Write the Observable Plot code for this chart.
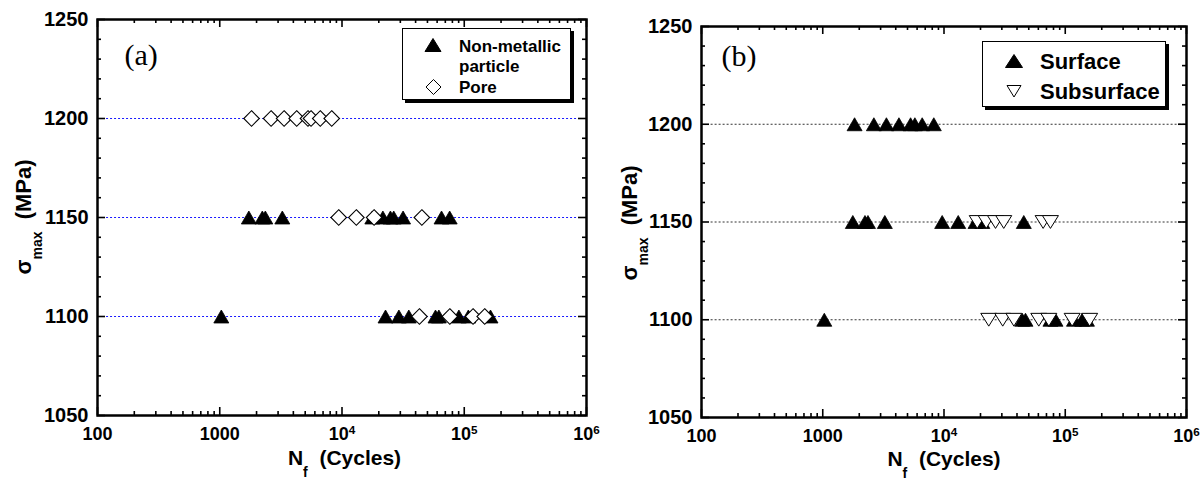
<!DOCTYPE html>
<html><head><meta charset="utf-8">
<script src="https://cdn.jsdelivr.net/npm/d3@7"></script>
<script src="https://cdn.jsdelivr.net/npm/@observablehq/plot@0.6"></script>
<style>
html,body{margin:0;padding:0;background:#fff;}
#root{position:relative;width:1203px;height:481px;overflow:hidden;font-family:"Liberation Sans",Arial,sans-serif;}
.panel{position:absolute;top:0;}
.t{position:absolute;font-weight:bold;white-space:nowrap;color:#000;}
.legend{position:absolute;box-sizing:border-box;border:1.5px solid #000;box-shadow:3px 3px 0 #000;background:#fff;}
.ax{position:absolute;font-weight:bold;white-space:nowrap;color:#000;line-height:1.15;}
.ax .sub{position:relative;font-size:14px;}
</style></head>
<body><div id="root"></div>
<script>
// ---------- axes / tick labels ----------
const yTicks = [1050, 1100, 1150, 1200, 1250];
const yTickLabels = ["1050", "1100", "1150", "1200", "1250"];
const yMinorTicks = [1060,1070,1080,1090,1110,1120,1130,1140,1160,1170,1180,1190,1210,1220,1230,1240];
const xTicks = [100, 1000, 10000, 100000, 1000000];
const xTickLabels = ["100", "1000", "10^4", "10^5", "10^6"];
const xMinorTicks = [200,300,400,500,600,700,800,900,2000,3000,4000,5000,6000,7000,8000,9000,
  20000,30000,40000,50000,60000,70000,80000,90000,200000,300000,400000,500000,600000,700000,800000,900000];
const stressLevels = [1100, 1150, 1200];

// ---------- panel (a): cycles to failure by stress level ----------
const aNonMetallic1150 = [1730, 2230, 2360, 3250, 17700, 21600, 24900, 26500, 31600, 65200, 76000];
const aNonMetallic1100 = [1030, 22700, 29200, 35200, 58200, 62000, 90400, 108000, 164000];
const aPore1200 = [1820, 2630, 3360, 4260, 5270, 5580, 6640, 8240];
const aPore1150 = [9400, 13100, 18300, 45000];
const aPore1100 = [43000, 76200, 118000, 147000];

// ---------- panel (b) ----------
const bSurface1200 = [1830, 2640, 3350, 4250, 5300, 5750, 6610, 8240];
const bSurface1150 = [1770, 2230, 2360, 3250, 9660, 13100, 18200, 20700, 45500];
const bSurface1100 = [1030, 44200, 47000, 75500, 83100, 118000, 138000, 151000];
const bSubsurface1150 = [18800, 22300, 26600, 31100, 65700, 75500];
const bSubsurface1100 = [23400, 30500, 37700, 60500, 73200, 114000, 159000];

const rows = (arr, s) => arr.map(n => ({N: n, S: s}));
const aNonMetallic = [...rows(aNonMetallic1150, 1150), ...rows(aNonMetallic1100, 1100)];
const aPore = [...rows(aPore1200, 1200), ...rows(aPore1150, 1150), ...rows(aPore1100, 1100)];
const bSurface = [...rows(bSurface1200, 1200), ...rows(bSurface1150, 1150), ...rows(bSurface1100, 1100)];
const bSubsurface = [...rows(bSubsurface1150, 1150), ...rows(bSubsurface1100, 1100)];

// ---------- symbols ----------
const triUp = {draw(ctx, size){ const r = Math.sqrt(size/Math.PI), h = r*0.866; ctx.moveTo(0,-h); ctx.lineTo(r,h); ctx.lineTo(-r,h); ctx.closePath(); }};
const triDown = {draw(ctx, size){ const r = Math.sqrt(size/Math.PI), h = r*0.8; ctx.moveTo(0,h); ctx.lineTo(r,-h); ctx.lineTo(-r,-h); ctx.closePath(); }};
const diamond = {draw(ctx, size){ const r = Math.sqrt(size/Math.PI); ctx.moveTo(0,-r); ctx.lineTo(r,0); ctx.lineTo(0,r); ctx.lineTo(-r,0); ctx.closePath(); }};

function frameTicks(iw, ih) {
  const sw = 1.6;
  return [
    Plot.tickY(yMinorTicks, {y: d => d, insetRight: iw - 4, strokeWidth: sw}),
    Plot.tickY(yMinorTicks, {y: d => d, insetLeft: iw - 4, strokeWidth: sw}),
    Plot.tickY(yTicks, {y: d => d, insetRight: iw - 8, strokeWidth: sw}),
    Plot.tickY(yTicks, {y: d => d, insetLeft: iw - 8, strokeWidth: sw}),
    Plot.tickX(xMinorTicks, {x: d => d, insetTop: ih - 4, strokeWidth: sw}),
    Plot.tickX(xMinorTicks, {x: d => d, insetBottom: ih - 4, strokeWidth: sw}),
    Plot.tickX(xTicks, {x: d => d, insetTop: ih - 8, strokeWidth: sw}),
    Plot.tickX(xTicks, {x: d => d, insetBottom: ih - 8, strokeWidth: sw})
  ];
}

function makePanel(o) {
  const iw = o.W - o.ml - o.mr, ih = o.H - o.mt - o.mb;
  const p = Plot.plot({
    width: o.W, height: o.H,
    marginLeft: o.ml, marginRight: o.mr, marginTop: o.mt, marginBottom: o.mb,
    style: {fontFamily: "'Liberation Sans', Arial, sans-serif", fontSize: "18px", fontWeight: "bold", background: "transparent", overflow: "visible", color: "#000"},
    x: {type: "log", domain: [100, 1e6], ticks: xTicks, tickFormat: d => xTickLabels[xTicks.indexOf(d)], tickSize: 0, tickPadding: 12, label: null},
    y: {domain: [1050, 1250], ticks: yTicks, tickFormat: d => yTickLabels[yTicks.indexOf(d)], tickSize: 0, tickPadding: 9, label: null},
    marks: [
      Plot.ruleY(stressLevels, {y: d => d, x1: () => o.gridStart, x2: () => 1e6, stroke: o.gridColor, strokeWidth: 1, strokeDasharray: "2,2"}),
      ...o.marks,
      ...frameTicks(iw, ih),
      Plot.frame({stroke: "#000", strokeWidth: 2.5}),
      Plot.text([o.tag], {text: d => d, frameAnchor: "top-left", dx: o.tagDx, dy: o.tagDy, textAnchor: "start", lineAnchor: "middle", fontFamily: "'Liberation Serif', 'Times New Roman', serif", fontSize: 30, fontWeight: "normal"})
    ]
  });
  const ns = "http://www.w3.org/2000/svg";
  p.querySelectorAll("text").forEach(t => {
    const m = /^10\^(\d)$/.exec(t.textContent);
    if (m) {
      t.textContent = "10";
      const ts = document.createElementNS(ns, "tspan");
      ts.setAttribute("dy", "-0.55em");
      ts.setAttribute("font-size", "0.65em");
      ts.textContent = m[1];
      t.appendChild(ts);
    } else if (yTickLabels.includes(t.textContent)) {
      t.setAttribute("font-size", "20px");
    }
  });
  return p;
}

const root = document.getElementById("root");

const panelA = makePanel({
  W: 600, H: 481, ml: 97, mr: 14, mt: 19, mb: 66,
  gridStart: 110, gridColor: "#1a1aff", tag: "(a)", tagDx: 27, tagDy: 36,
  marks: [
    Plot.dot(aNonMetallic, {x: "N", y: "S", symbol: triUp, r: 7.5, fill: "#000", stroke: "#000", strokeWidth: 0.8}),
    Plot.dot(aPore, {x: "N", y: "S", symbol: diamond, r: 7.8, fill: "#fff", stroke: "#000", strokeWidth: 1.1})
  ]
});
const panelB = makePanel({
  W: 603, H: 481, ml: 101, mr: 17, mt: 26, mb: 64,
  gridStart: 120, gridColor: "#333", tag: "(b)", tagDx: 20, tagDy: 30,
  marks: [
    Plot.dot(bSurface, {x: "N", y: "S", symbol: triUp, r: 7.5, fill: "#000", stroke: "#000", strokeWidth: 0.8}),
    Plot.dot(bSubsurface, {x: "N", y: "S", symbol: triDown, r: 8, fill: "#fff", stroke: "#000", strokeWidth: 1})
  ]
});
const da = document.createElement("div"); da.className = "panel"; da.style.left = "0px"; da.appendChild(panelA); root.appendChild(da);
const db = document.createElement("div"); db.className = "panel"; db.style.left = "600px"; db.appendChild(panelB); root.appendChild(db);

// ---------- axis titles ----------
function addAx(html, cx, cy, rot, fs) {
  const d = document.createElement("div");
  d.className = "ax";
  d.innerHTML = html;
  d.style.fontSize = fs + "px";
  d.style.left = cx + "px"; d.style.top = cy + "px";
  d.style.transform = "translate(-50%,-50%)" + (rot ? " rotate(-90deg)" : "");
  root.appendChild(d);
}
const xTitle = 'N<span class="sub" style="top:12px">f</span>&nbsp;&nbsp;(Cycles)';
const yTitle = '\u03C3<span class="sub" style="top:11px">max</span>&nbsp;&nbsp;(MPa)';
addAx(xTitle, 344.5, 458, false, 21);
addAx(xTitle, 944, 459, false, 21);
addAx(yTitle, 24, 217, true, 22);
addAx(yTitle, 630, 223, true, 22);

// ---------- legends ----------
function addBox(l, t, w, h) {
  const d = document.createElement("div"); d.className = "legend";
  Object.assign(d.style, {left: l + "px", top: t + "px", width: w + "px", height: h + "px"});
  root.appendChild(d);
}
function addText(txt, l, cy, fs) {
  const d = document.createElement("div"); d.className = "t"; d.textContent = txt;
  d.style.fontSize = fs + "px"; d.style.lineHeight = (fs + 4) + "px";
  d.style.left = l + "px"; d.style.top = (cy - fs * 0.58) + "px";
  root.appendChild(d);
}
addBox(402, 28, 169, 72);
addBox(982, 41, 184, 66);
addText("Non-metallic", 459, 45.5, 17);
addText("particle", 459, 65.5, 17);
addText("Pore", 459, 87, 17);
addText("Surface", 1040, 61.5, 22);
addText("Subsurface", 1040, 91.5, 22);

const ns = "http://www.w3.org/2000/svg";
const lsvg = document.createElementNS(ns, "svg");
lsvg.setAttribute("width", 1203); lsvg.setAttribute("height", 481);
lsvg.style.position = "absolute"; lsvg.style.left = "0"; lsvg.style.top = "0"; lsvg.style.pointerEvents = "none";
function poly(pts, fill) {
  const p = document.createElementNS(ns, "polygon");
  p.setAttribute("points", pts.map(q => q.join(",")).join(" "));
  p.setAttribute("fill", fill); p.setAttribute("stroke", "#000"); p.setAttribute("stroke-width", "1");
  lsvg.appendChild(p);
}
poly([[433, 38.5], [441, 51.5], [425, 51.5]], "#000");
poly([[433.5, 79.5], [441, 87], [433.5, 94.5], [426, 87]], "#fff");
poly([[1014, 54.5], [1022.5, 67.5], [1005.5, 67.5]], "#000");
poly([[1007, 85.5], [1021, 85.5], [1014, 97]], "#fff");
root.appendChild(lsvg);
</script>
</body></html>
